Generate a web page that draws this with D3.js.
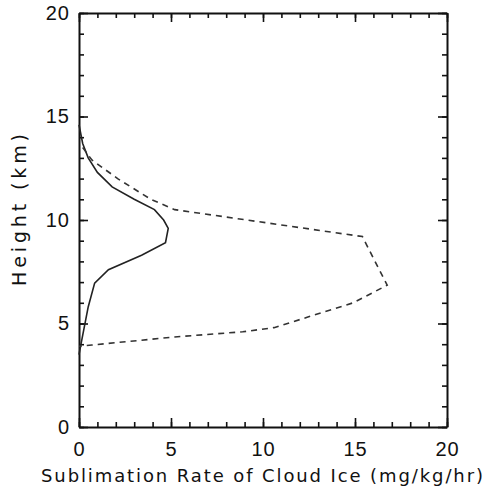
<!DOCTYPE html>
<html>
<head>
<meta charset="utf-8">
<script src="https://cdn.jsdelivr.net/npm/d3@7"></script>
<style>
  body { margin: 0; background: #fff; }
  svg { display: block; font-family: "DejaVu Sans", sans-serif; }
  .axis path, .axis line { stroke: #111; }
  .axis text { fill: #111; }
</style>
</head>
<body>
<svg width="487" height="490"></svg>
<script>
// solid curve: height (km) and sublimation rate
var solidHeight = [14.6, 13.7, 13.0, 12.3, 11.6, 11.0, 10.5, 10.0, 9.6, 8.9, 8.3, 7.6, 6.95, 5.8, 4.2, 3.5];
var solidRate   = [0.0, 0.2, 0.5, 1.0, 1.8, 3.0, 4.1, 4.6, 4.85, 4.7, 3.4, 1.6, 0.85, 0.5, 0.15, 0.0];

// dashed curve
var dashHeight = [13.5, 12.9, 12.0, 11.0, 10.5, 9.2, 6.85, 6.0, 5.3, 4.8, 4.6, 4.35, 3.96, 3.9];
var dashRate   = [0.2, 0.7, 2.1, 3.9, 5.2, 15.4, 16.75, 14.9, 12.4, 10.6, 8.9, 5.2, 0.7, 0.0];

var xTicks = [0, 5, 10, 15, 20];
var yTicks = [0, 5, 10, 15, 20];
var minorTicks = d3.range(0, 21, 1);

var svg = d3.select("svg"),
    margin = {top: 13, right: 40, bottom: 63, left: 79},
    width = +svg.attr("width") - margin.left - margin.right,
    height = +svg.attr("height") - margin.top - margin.bottom;

var x = d3.scaleLinear().domain([0, 20]).range([0, width]),
    y = d3.scaleLinear().domain([0, 20]).range([height, 0]);

var g = svg.append("g")
    .attr("transform", "translate(" + margin.left + "," + margin.top + ")");

// minor ticks, all four sides, pointing in
function minor(axis, tx, ty) {
    g.append("g")
        .attr("class", "axis")
        .attr("transform", "translate(" + tx + "," + ty + ")")
        .call(axis.tickValues(minorTicks).tickSize(-5).tickFormat(""))
        .call(function (s) { s.select(".domain").remove(); })
        .selectAll("line").attr("stroke-width", 1.6);
}
minor(d3.axisBottom(x), 0, height);
minor(d3.axisTop(x), 0, 0);
minor(d3.axisLeft(y), 0, 0);
minor(d3.axisRight(y), width, 0);

var xb = g.append("g")
    .attr("class", "axis")
    .attr("transform", "translate(0," + height + ")")
    .call(d3.axisBottom(x).tickValues(xTicks).tickSize(-9).tickSizeOuter(0).tickPadding(15));
xb.select(".domain").attr("stroke-width", 2);
xb.selectAll("line").attr("stroke-width", 1.6);

var xt = g.append("g")
    .attr("class", "axis")
    .call(d3.axisTop(x).tickValues(xTicks).tickSize(-9).tickSizeOuter(0).tickFormat(""));
xt.select(".domain").attr("stroke-width", 2);
xt.selectAll("line").attr("stroke-width", 1.6);

var yl = g.append("g")
    .attr("class", "axis")
    .call(d3.axisLeft(y).tickValues(yTicks).tickSize(-9).tickSizeOuter(0).tickPadding(9));
yl.select(".domain").attr("stroke-width", 2);
yl.selectAll("line").attr("stroke-width", 1.6);

var yr = g.append("g")
    .attr("class", "axis")
    .attr("transform", "translate(" + width + ",0)")
    .call(d3.axisRight(y).tickValues(yTicks).tickSize(-9).tickSizeOuter(0).tickFormat(""));
yr.select(".domain").attr("stroke-width", 2);
yr.selectAll("line").attr("stroke-width", 1.6);

g.selectAll(".axis text").attr("font-size", 20).attr("letter-spacing", 1);

var line = d3.line()
    .x(function (d) { return x(d[1]); })
    .y(function (d) { return y(d[0]); });

g.append("path")
    .datum(d3.zip(solidHeight, solidRate))
    .attr("fill", "none")
    .attr("stroke", "#222")
    .attr("stroke-width", 1.6)
    .attr("d", line);

g.append("path")
    .datum(d3.zip(dashHeight, dashRate))
    .attr("fill", "none")
    .attr("stroke", "#333")
    .attr("stroke-width", 1.6)
    .attr("stroke-dasharray", "6,5")
    .attr("d", line);

svg.append("text")
    .attr("x", 262)
    .attr("y", 482)
    .attr("text-anchor", "middle")
    .attr("font-size", 18)
    .attr("textLength", 442)
    .attr("fill", "#111")
    .text("Sublimation Rate of Cloud Ice (mg/kg/hr)");

svg.append("text")
    .attr("transform", "translate(26,210) rotate(-90)")
    .attr("text-anchor", "middle")
    .attr("font-size", 19)
    .attr("textLength", 152)
    .attr("fill", "#111")
    .text("Height (km)");
</script>
</body>
</html>
